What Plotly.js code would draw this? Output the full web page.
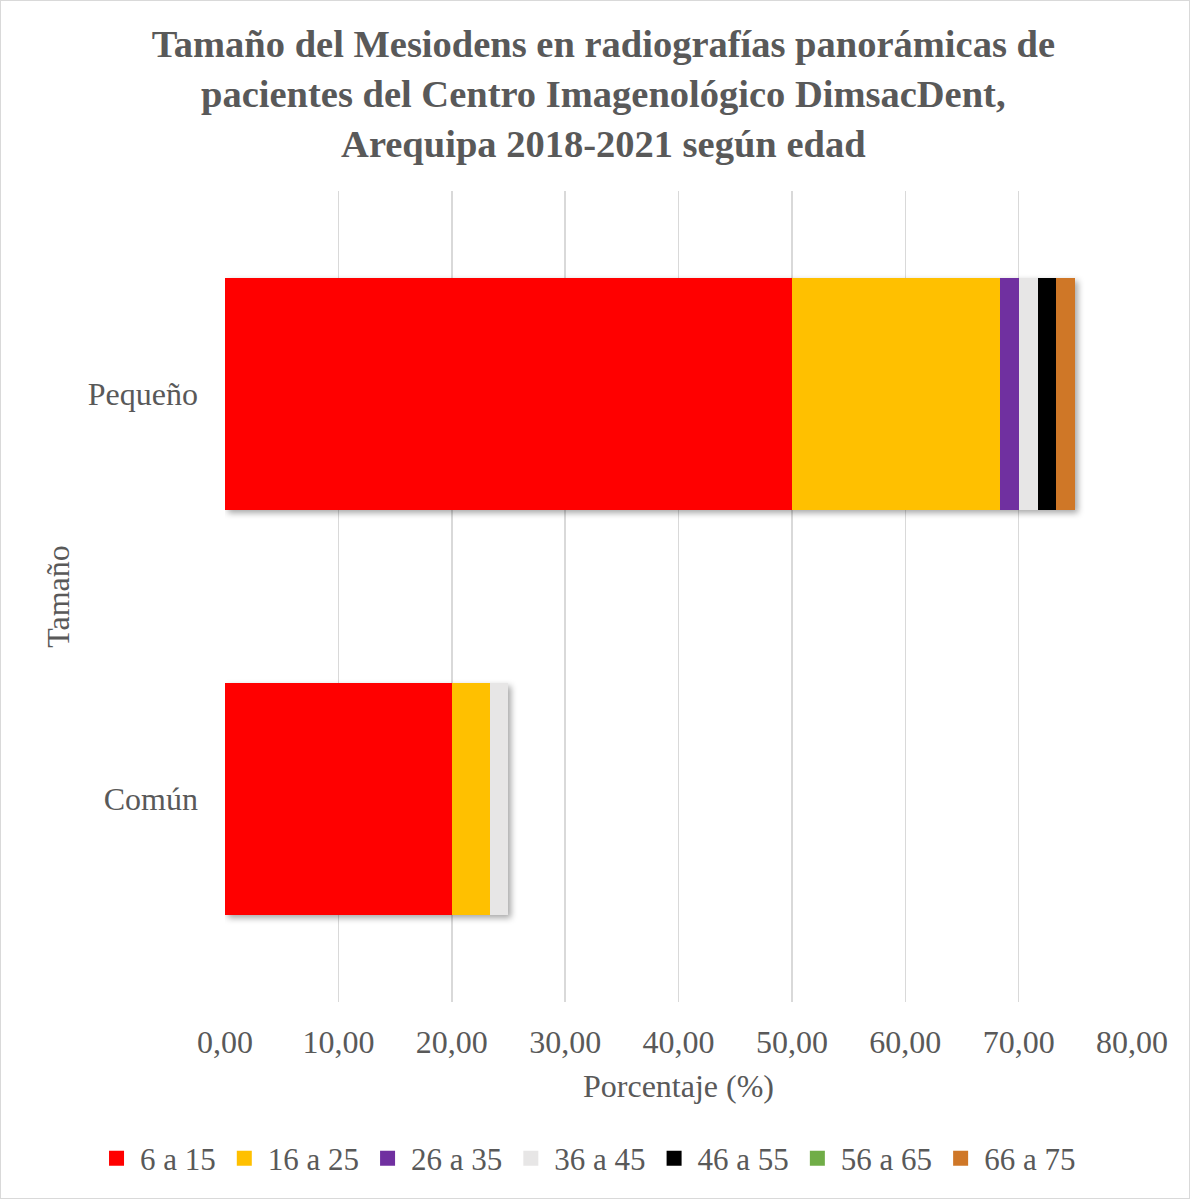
<!DOCTYPE html>
<html>
<head>
<meta charset="utf-8">
<script src="https://cdn.plot.ly/plotly-3.0.1.min.js"></script>
<style>
html, body { margin: 0; padding: 0; background: #fff; }
#wrap { width: 1190px; height: 1199px; box-sizing: border-box; border: 1px solid #D9D9D9; }
#chart { width: 1188px; height: 1197px; }
.barlayer { filter: drop-shadow(3px 3px 3px rgba(0,0,0,0.35)); }
.legend .legendpoints path { d: path("M7.5,7.5H-7.5V-7.5H7.5Z"); }
</style>
</head>
<body>
<div id="wrap"><div id="chart"></div></div>
<script>
const categories = ["Común", "Pequeño"];
const seriesNames = ["6 a 15", "16 a 25", "26 a 35", "36 a 45", "46 a 55", "56 a 65", "66 a 75"];
const s6a15  = [20.00, 50.00];
const s16a25 = [3.33, 18.33];
const s26a35 = [0.00, 1.67];
const s36a45 = [1.67, 1.67];
const s46a55 = [0.00, 1.67];
const s56a65 = [0.00, 0.00];
const s66a75 = [0.00, 1.67];
const xTicks = [0, 10, 20, 30, 40, 50, 60, 70, 80];
const xTickLabels = ["0,00", "10,00", "20,00", "30,00", "40,00", "50,00", "60,00", "70,00", "80,00"];
const colors = ["#FF0000", "#FFC000", "#7030A0", "#E7E6E6", "#000000", "#70AD47", "#CF7727"];

const values = [s6a15, s16a25, s26a35, s36a45, s46a55, s56a65, s66a75];
const font = "Liberation Serif, Times New Roman, serif";
const txt = "#595959";

const data = seriesNames.map((n, i) => ({
  type: "bar",
  orientation: "h",
  name: n,
  y: categories,
  x: values[i],
  marker: { color: colors[i], line: { width: 0, color: colors[i] } },
  hoverinfo: "x+name"
}));

const layout = {
  barmode: "stack",
  bargap: 0.427,
  width: 1188,
  height: 1197,
  paper_bgcolor: "#fff",
  plot_bgcolor: "#fff",
  margin: { l: 224, r: 57, t: 190, b: 185 },
  font: { family: font, color: txt, size: 30 },
  title: {
    text: "<b>Tamaño del Mesiodens en radiografías panorámicas de<br>pacientes del Centro Imagenológico DimsacDent,<br>Arequipa 2018-2021 según edad</b>",
    font: { family: font, size: 38.5, color: txt },
    x: 0.507, xanchor: "center",
    yref: "container",
    y: 0.953, yanchor: "middle"
  },
  xaxis: {
    range: [0, 80],
    tickvals: xTicks,
    ticktext: xTickLabels,
    tickangle: 0,
    showgrid: true,
    gridcolor: "#D9D9D9",
    gridwidth: 1.5,
    zeroline: false,
    showline: false,
    ticks: "",
    ticklabelstandoff: 18,
    tickfont: { family: font, size: 32, color: txt },
    title: { text: "Porcentaje (%)", font: { family: font, size: 32, color: txt }, standoff: 15 }
  },
  yaxis: {
    type: "category",
    categoryorder: "array",
    categoryarray: categories,
    range: [-0.5, 1.5],
    showgrid: false,
    zeroline: false,
    showline: false,
    ticks: "",
    ticklabelstandoff: 26,
    tickfont: { family: font, size: 32, color: txt },
    title: { text: "Tamaño", font: { family: font, size: 32, color: txt }, standoff: 8 }
  },
  showlegend: true,
  legend: {
    orientation: "h",
    x: -0.1455, xanchor: "left",
    y: -0.193, yanchor: "middle",
    font: { family: font, size: 31, color: txt },
    itemwidth: 37,
    traceorder: "normal",
    tracegroupgap: 0
  }
};

Plotly.newPlot("chart", data, layout, { displayModeBar: false, staticPlot: true });
</script>
</body>
</html>
